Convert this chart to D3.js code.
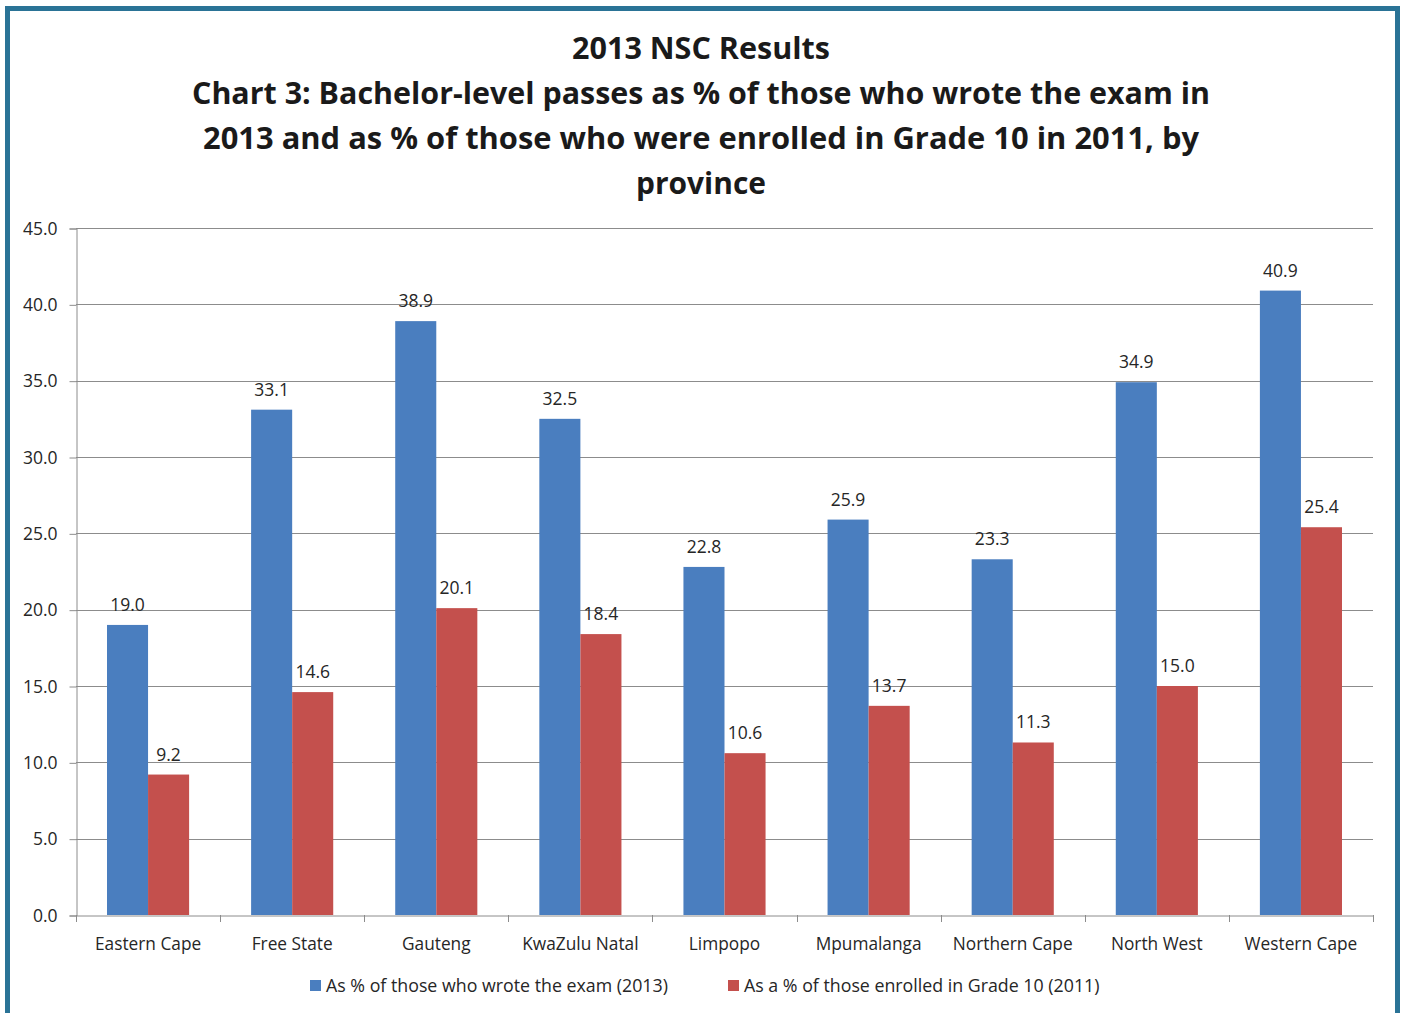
<!DOCTYPE html>
<html lang="en">
<head>
<meta charset="utf-8">
<title>2013 NSC Results</title>
<script src="https://d3js.org/d3.v7.min.js"></script>
<style>
  body { margin: 0; background: #fff; }
  text { font-family: "Open Sans", "DejaVu Sans", sans-serif; fill: #262626; }
</style>
</head>
<body>
<div id="chart"></div>
<script>
var provinces = ["Eastern Cape", "Free State", "Gauteng", "KwaZulu Natal", "Limpopo",
                 "Mpumalanga", "Northern Cape", "North West", "Western Cape"];
var wroteExam = [19.0, 33.1, 38.9, 32.5, 22.8, 25.9, 23.3, 34.9, 40.9];
var enrolledGr10 = [9.2, 14.6, 20.1, 18.4, 10.6, 13.7, 11.3, 15.0, 25.4];
var seriesNames = ["As % of those who wrote the exam (2013)", "As a % of those enrolled in Grade 10 (2011)"];
var yTicks = [0, 5, 10, 15, 20, 25, 30, 35, 40, 45];
var titleLines = ["2013 NSC Results",
  "Chart 3: Bachelor-level passes as % of those who wrote the exam in",
  "2013 and as % of those who were enrolled in Grade 10 in 2011, by",
  "province"];

(function () {
  var W = 1404, H = 1013;
  var colors = ["#4a7ebf", "#c4504d"];
  var plotL = 76, plotR = 1373, plotT = 228, plotB = 915;

  var svg = d3.select("#chart").append("svg").attr("width", W).attr("height", H);

  // outer frame
  svg.append("rect").attr("x", 7.5).attr("y", 8.5).attr("width", 1390).attr("height", 1020)
    .attr("fill", "none").attr("stroke", "#2a7396").attr("stroke-width", 5);

  // title
  var titleWidths = [258, 1018, 996, 130];
  svg.append("g").selectAll("text").data(titleLines).enter().append("text")
    .attr("x", 701).attr("y", function (d, i) { return 59 + i * 45; })
    .attr("text-anchor", "middle")
    .attr("textLength", function (d, i) { return titleWidths[i]; })
    .attr("lengthAdjust", "spacingAndGlyphs")
    .style("font-weight", "bold").style("font-size", "30px").style("fill", "#1a1a1a")
    .text(function (d) { return d; });

  var x0 = d3.scaleBand().domain(provinces).range([plotL, plotR]);
  var x1 = d3.scaleBand().domain([0, 1]).range([0, x0.bandwidth()]).paddingOuter(0.755);
  var y = d3.scaleLinear().domain([0, 45]).range([plotB, plotT]);

  // gridlines
  svg.append("g").selectAll("line").data(yTicks.slice(1)).enter().append("line")
    .attr("x1", plotL).attr("x2", plotR)
    .attr("y1", function (d) { return Math.round(y(d)) + 0.5; })
    .attr("y2", function (d) { return Math.round(y(d)) + 0.5; })
    .attr("stroke", "#8c8c8c").attr("stroke-width", 1);

  // y axis
  var yAxis = svg.append("g").attr("transform", "translate(" + (plotL + 0.5) + ",0.5)")
    .call(d3.axisLeft(y).tickValues(yTicks).tickFormat(d3.format(".1f")).tickSize(7).tickPadding(12));
  yAxis.select(".domain").attr("stroke", "#8c8c8c");
  yAxis.selectAll(".tick line").attr("stroke", "#8c8c8c");
  yAxis.selectAll("text").style("font-size", "17.5px").style("fill", "#262626")
    .style("font-family", "'Open Sans', sans-serif");

  // bars
  var groups = svg.append("g").selectAll("g").data(provinces).enter().append("g")
    .attr("transform", function (d) { return "translate(" + x0(d) + ",0)"; });

  groups.selectAll("rect").data(function (d, i) { return [wroteExam[i], enrolledGr10[i]]; })
    .enter().append("rect")
    .attr("x", function (d, j) { return x1(j); })
    .attr("width", x1.bandwidth())
    .attr("y", function (d) { return y(d); })
    .attr("height", function (d) { return y(0) - y(d); })
    .attr("fill", function (d, j) { return colors[j]; });

  groups.selectAll("text.val").data(function (d, i) { return [wroteExam[i], enrolledGr10[i]]; })
    .enter().append("text").attr("class", "val")
    .attr("x", function (d, j) { return x1(j) + x1.bandwidth() / 2; })
    .attr("y", function (d) { return y(d) - 14; })
    .attr("text-anchor", "middle").style("font-size", "17.5px")
    .text(function (d) { return d.toFixed(1); });

  // x axis
  var xAxis = svg.append("g").attr("transform", "translate(0," + (plotB + 0.5) + ")")
    .call(d3.axisBottom(x0).tickSize(0).tickPadding(22));
  xAxis.select(".domain").attr("stroke", "#8c8c8c");
  xAxis.selectAll("text").style("font-size", "17.3px").style("fill", "#262626")
    .style("font-family", "'Open Sans', sans-serif");
  svg.append("g").selectAll("line").data(d3.range(provinces.length + 1)).enter().append("line")
    .attr("x1", function (d) { return Math.round(plotL + d * x0.bandwidth()) + 0.5; })
    .attr("x2", function (d) { return Math.round(plotL + d * x0.bandwidth()) + 0.5; })
    .attr("y1", plotB).attr("y2", plotB + 7)
    .attr("stroke", "#8c8c8c");

  // legend
  var legendX = [310, 728];
  var leg = svg.append("g").selectAll("g").data(seriesNames).enter().append("g")
    .attr("transform", function (d, i) { return "translate(" + legendX[i] + ",980)"; });
  leg.append("rect").attr("width", 11).attr("height", 11)
    .attr("fill", function (d, i) { return colors[i]; });
  leg.append("text").attr("x", 16).attr("y", 12).style("font-size", "17.8px")
    .text(function (d) { return d; });
}());
</script>
</body>
</html>
